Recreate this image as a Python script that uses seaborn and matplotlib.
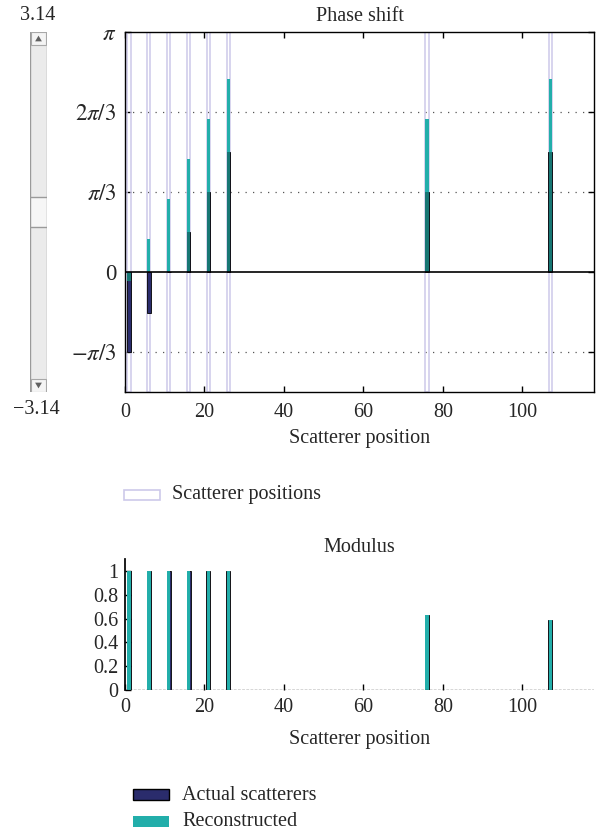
import numpy as np
import pandas as pd
import matplotlib
matplotlib.use("Agg")
import matplotlib.pyplot as plt
from matplotlib.patches import Rectangle, Polygon
import seaborn as sns

# ---------------- data ----------------
positions = [1, 6, 11, 16, 21, 26, 76, 107]
phase_actual = [-1.047, -0.537, 0.0, 0.524, 1.047, 1.571, 1.047, 1.571]
phase_recon = [-0.12, 0.43, 0.955, 1.479, 2.003, 2.526, 2.003, 2.526]
mod_actual = [1, 1, 1, 1, 1, 1, 0.63, 0.59]
mod_recon = [1, 1, 1, 1, 1, 1, 0.63, 0.59]
phase_ticks = [-np.pi / 3, 0, np.pi / 3, 2 * np.pi / 3, np.pi]
phase_ticklabels = [r"$-\pi/3$", "0", r"$\pi/3$", r"$2\pi/3$", r"$\pi$"]
x_ticks = [0, 20, 40, 60, 80, 100]
mod_ticks = [0, 0.2, 0.4, 0.6, 0.8, 1]
mod_ticklabels = ["0", "0.2", "0.4", "0.6", "0.8", "1"]
slider_min, slider_max, slider_value = -3.14, 3.14, 0.0

NAVY = "#2a2c6c"
TEAL = "#22aeaa"
LAV = "#cdc9ea"

sns.set_theme(style="white")
plt.rcParams["font.family"] = ["Liberation Serif", "DejaVu Serif"]
plt.rcParams["mathtext.fontset"] = "stix"
plt.rcParams["axes.unicode_minus"] = True
FS = 14.5

fig = plt.figure(figsize=(6.02, 8.35), dpi=100)
W, H = 602, 835


def rect(l, t, r, b):
    return [l / W, 1 - b / H, (r - l) / W, (b - t) / H]


df = pd.DataFrame({"pos": positions, "pa": phase_actual, "pr": phase_recon,
                   "ma": mod_actual, "mr": mod_recon})
# overlap of actual and reconstructed phase (same sign part)
df["ov"] = [a if (a * r > 0 and abs(a) <= abs(r)) else (r if a * r > 0 else 0.0)
            for a, r in zip(phase_actual, phase_recon)]

# ---------------- phase axes ----------------
ax = fig.add_axes(rect(125, 32, 594, 392))
ylo, yhi = -np.pi / 2, np.pi
ax.bar(positions, [yhi - ylo] * len(positions), bottom=ylo, width=0.8,
       fill=False, edgecolor=LAV, linewidth=1.1, zorder=1)
for yt in phase_ticks:
    if yt not in (0, np.pi):
        ax.axhline(yt, color="#555555", lw=0.9, ls=(0, (1, 5)), zorder=0.5)
sns.barplot(data=df, x="pos", y="pa", native_scale=True, width=0.18,
            color=NAVY, saturation=1, edgecolor="black", linewidth=0.6,
            errorbar=None, ax=ax, zorder=2)
sns.barplot(data=df, x="pos", y="pr", native_scale=True, width=0.16,
            color=TEAL, saturation=1, linewidth=0,
            errorbar=None, ax=ax, zorder=3)
sns.barplot(data=df, x="pos", y="ov", native_scale=True, width=0.16,
            color="black", saturation=1, alpha=0.32, linewidth=0,
            errorbar=None, ax=ax, zorder=3.5)
ax.axhline(0, color="black", lw=1.2, zorder=4)
ax.set_xlim(0, 118)
ax.set_ylim(ylo, yhi)
ax.set_yticks(phase_ticks)
ax.set_yticklabels(phase_ticklabels, fontsize=16.5)
ax.set_xticks(x_ticks)
ax.set_xticklabels([str(t) for t in x_ticks], fontsize=FS)
ax.tick_params(direction="in", top=True, right=True, left=True, bottom=True,
               length=4, width=1, color="black", pad=8)
ax.tick_params(axis="y", pad=6)
for s in ax.spines.values():
    s.set_color("black")
    s.set_linewidth(1)
ax.set_xlabel("Scatterer position", fontsize=FS, labelpad=5)
ax.set_ylabel("")
ax.set_title("Phase shift", fontsize=FS, pad=8)

# ---------------- modulus axes ----------------
ax2 = fig.add_axes(rect(125, 559, 594, 690))
sns.barplot(data=df, x="pos", y="ma", native_scale=True, width=0.2,
            color=NAVY, saturation=1, edgecolor="black", linewidth=0.6,
            errorbar=None, ax=ax2, zorder=2)
sns.barplot(data=df, x="pos", y="mr", native_scale=True, width=0.17,
            color=TEAL, saturation=1, linewidth=0,
            errorbar=None, ax=ax2, zorder=3)
ax2.axhline(0, color="#333333", lw=1.0, ls=(0, (2, 1)), zorder=4)
ax2.set_xlim(0, 118)
ax2.set_ylim(0, 1.1)
ax2.set_yticks(mod_ticks)
ax2.set_yticklabels(mod_ticklabels, fontsize=FS)
ax2.set_xticks(x_ticks)
ax2.set_xticklabels([str(t) for t in x_ticks], fontsize=FS)
ax2.tick_params(direction="in", left=True, bottom=True, length=4, width=1,
                color="black", pad=6)
ax2.tick_params(axis="y", pad=5)
ax2.spines["top"].set_visible(False)
ax2.spines["right"].set_visible(False)
ax2.spines["bottom"].set_visible(False)
ax2.spines["left"].set_color("black")
ax2.set_xlabel("Scatterer position", fontsize=FS, labelpad=9)
ax2.set_ylabel("")
ax2.set_title("Modulus", fontsize=FS, pad=5)

# ---------------- slider ----------------
sax = fig.add_axes(rect(30, 32, 47, 392))
sax.set_xlim(0, 1)
sax.set_ylim(slider_min, slider_max)
sax.axis("off")
span = slider_max - slider_min
arrow_h = span * 13 / 360
sax.add_patch(Rectangle((0, slider_min), 1, span, facecolor="#ebebeb",
                        edgecolor="#9a9a9a", lw=1))
for y0, up in ((slider_max - arrow_h, True), (slider_min, False)):
    sax.add_patch(Rectangle((0.05, y0), 0.9, arrow_h, facecolor="#f4f4f4",
                            edgecolor="#a8a8a8", lw=0.8))
    cy = y0 + arrow_h / 2
    d = arrow_h * 0.22
    if up:
        tri = [(0.3, cy - d), (0.7, cy - d), (0.5, cy + d)]
    else:
        tri = [(0.3, cy + d), (0.7, cy + d), (0.5, cy - d)]
    sax.add_patch(Polygon(tri, closed=True, facecolor="#606060", edgecolor="none"))
thumb_h = span * 30 / 360
sax.add_patch(Rectangle((0.0, slider_value - thumb_h / 2), 1, thumb_h,
                        facecolor="#f6f6f6", edgecolor="#9a9a9a", lw=1))
fig.text(38 / W, 1 - 15 / H, f"{slider_max:.2f}", ha="center", va="center",
         fontsize=FS)
fig.text(36 / W, 1 - 409 / H, f"\u2212{abs(slider_min):.2f}", ha="center",
         va="center", fontsize=FS)

# ---------------- legends ----------------
fig.patches.append(Rectangle((124 / W, 1 - 500 / H), 36 / W, 10 / H,
                             transform=fig.transFigure, fill=False,
                             edgecolor=LAV, lw=1.2))
fig.text(172 / W, 1 - 494 / H, "Scatterer positions", ha="left",
         va="center", fontsize=FS)
fig.patches.append(Rectangle((133 / W, 1 - 800 / H), 36 / W, 11 / H,
                             transform=fig.transFigure, facecolor=NAVY,
                             edgecolor="black", lw=1))
fig.text(182 / W, 1 - 795 / H, "Actual scatterers", ha="left",
         va="center", fontsize=FS)
fig.patches.append(Rectangle((133 / W, 1 - 827 / H), 36 / W, 11 / H,
                             transform=fig.transFigure, facecolor=TEAL,
                             edgecolor="none"))
fig.text(182 / W, 1 - 821 / H, "Reconstructed", ha="left",
         va="center", fontsize=FS)

fig.savefig("out.png", dpi=100)
